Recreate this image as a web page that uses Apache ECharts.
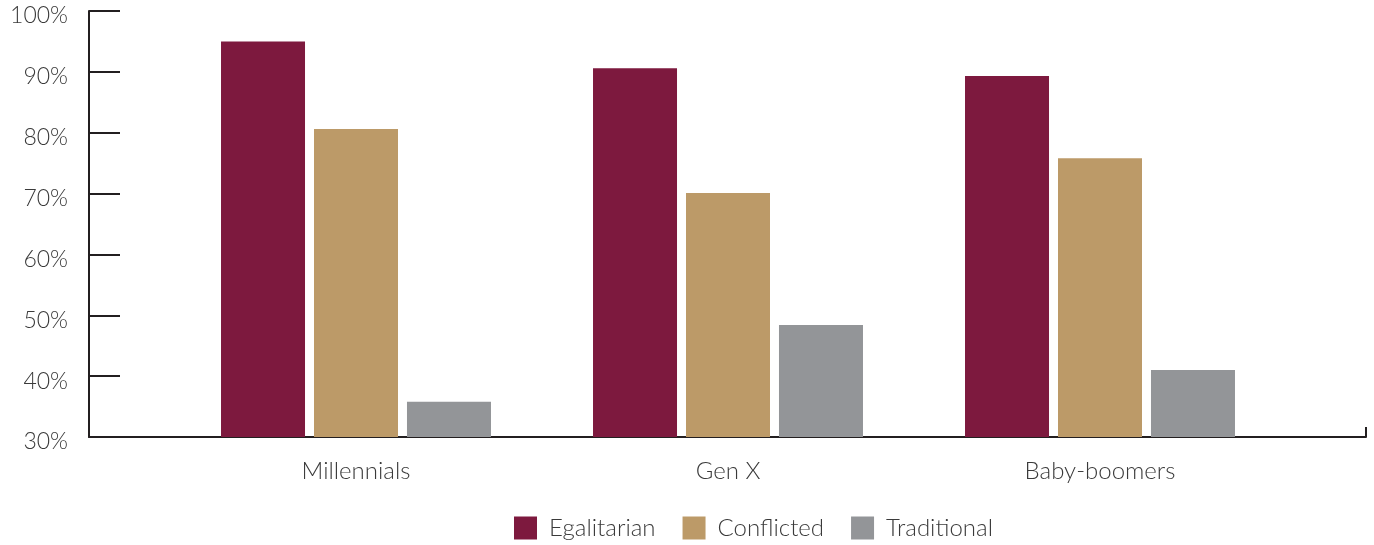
<!DOCTYPE html>
<html>
<head>
<meta charset="utf-8">
<script src="https://cdn.jsdelivr.net/npm/echarts@6/dist/echarts.min.js"></script>
<style>html,body{margin:0;padding:0;background:#fff}#c{width:1374px;height:545px}</style>
</head>
<body>
<div id="c"></div>
<script>
const categories = ['Millennials', 'Gen X', 'Baby-boomers'];
const egalitarian = [95.0, 90.6, 89.3];
const conflicted = [80.6, 70.1, 75.8];
const traditional = [35.8, 48.4, 41.0];
const yTicks = [30, 40, 50, 60, 70, 80, 90, 100];

const chart = echarts.init(document.getElementById('c'));
const font = 'Lato, "Open Sans", sans-serif';
const axisColor = '#231f20';
const textColor = '#3a3a3a';

chart.setOption({
  animation: false,
  grid: [
    { left: 89, right: 8, top: 11, bottom: 108 },
    { left: 170, right: 88, top: 11, bottom: 108 }
  ],
  xAxis: [
    { gridIndex: 0, type: 'value', min: 0, max: 1, interval: 1,
      axisLine: { show: true, lineStyle: { color: axisColor, width: 2 } },
      axisTick: { show: true, inside: true, length: 10, lineStyle: { color: axisColor, width: 2 } },
      axisLabel: { show: false }, splitLine: { show: false } },
    { gridIndex: 1, type: 'category', data: categories,
      axisLine: { show: false }, axisTick: { show: false },
      axisLabel: { fontFamily: font, fontSize: 24, fontWeight: 300, color: textColor, margin: 22 } }
  ],
  yAxis: [
    { gridIndex: 0, type: 'value', min: yTicks[0], max: yTicks[yTicks.length - 1], interval: 10,
      axisLine: { show: true, lineStyle: { color: axisColor, width: 2 } },
      axisTick: { show: true, inside: true, length: 31, lineStyle: { color: axisColor, width: 2 } },
      axisLabel: { margin: 21,
        formatter: v => '{a|' + v + '%}',
        rich: { a: { fontFamily: font, fontSize: 23, fontWeight: 300, color: textColor, padding: [10, 0, 0, 0] } } },
      splitLine: { show: false } },
    { gridIndex: 1, type: 'value', min: yTicks[0], max: yTicks[yTicks.length - 1], interval: 10, show: false }
  ],
  legend: {
    bottom: 5, left: 514, itemWidth: 23, itemHeight: 23, itemGap: 27,
    icon: 'rect', padding: 0,
    textStyle: { fontFamily: font, fontSize: 24, fontWeight: 300, color: textColor, padding: [0, 0, 0, 7] },
    data: ['Egalitarian', 'Conflicted', 'Traditional']
  },
  series: [
    { name: 'Egalitarian', type: 'bar', xAxisIndex: 1, yAxisIndex: 1, data: egalitarian,
      barWidth: 84, barGap: '10.7%', itemStyle: { color: '#7d193e' } },
    { name: 'Conflicted', type: 'bar', xAxisIndex: 1, yAxisIndex: 1, data: conflicted,
      barWidth: 84, barGap: '10.7%', itemStyle: { color: '#bc9a68' } },
    { name: 'Traditional', type: 'bar', xAxisIndex: 1, yAxisIndex: 1, data: traditional,
      barWidth: 84, barGap: '10.7%', itemStyle: { color: '#939598' } }
  ]
});
</script>
</body>
</html>
